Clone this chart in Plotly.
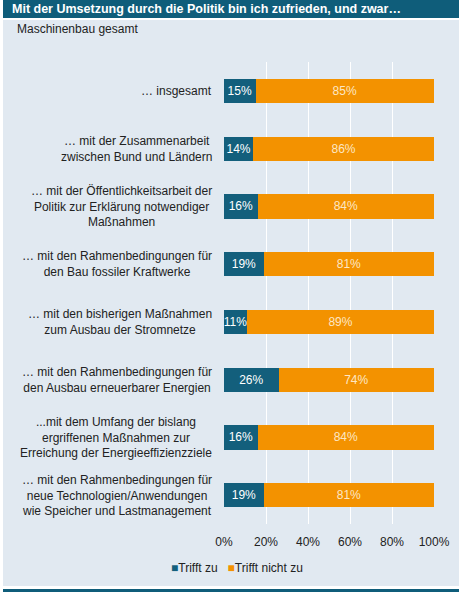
import plotly.graph_objects as go

categories = [
    "… insgesamt",
    "… mit der Zusammenarbeit<br>zwischen Bund und Ländern",
    "… mit der Öffentlichkeitsarbeit der<br>Politik zur Erklärung notwendiger<br>Maßnahmen",
    "… mit den Rahmenbedingungen für<br>den Bau fossiler Kraftwerke",
    "… mit den bisherigen Maßnahmen<br>zum Ausbau der Stromnetze",
    "… mit den Rahmenbedingungen für<br>den Ausbau erneuerbarer Energien",
    "...mit dem Umfang der bislang<br>ergriffenen Maßnahmen zur<br>Erreichung der Energieeffizienzziele",
    "… mit den Rahmenbedingungen für<br>neue Technologien/Anwendungen<br>wie Speicher und Lastmanagement",
]
trifft_zu = [15, 14, 16, 19, 11, 26, 16, 19]
trifft_nicht_zu = [85, 86, 84, 81, 89, 74, 84, 81]
x_ticks = [0, 20, 40, 60, 80, 100]
x_ticklabels = ["0%", "20%", "40%", "60%", "80%", "100%"]
series_names = ["Trifft zu", "Trifft nicht zu"]

W, H = 462, 592
L, R, T, B = 224, 28, 62, 68
pw, ph = W - L - R, H - T - B

def px(x):
    return (x - L) / pw

def py(y):
    return (H - B - y) / ph

TEAL = "#135f7c"
ORANGE = "#f39200"
BG = "#e1e9f1"
FONT = "Liberation Sans, Arial, sans-serif"
TXT = "#222222"

fig = go.Figure()
fig.add_trace(go.Bar(
    y=categories, x=trifft_zu, orientation="h", name=series_names[0],
    marker=dict(color=TEAL, line=dict(width=0)),
    text=[f"{v}%" for v in trifft_zu], textposition="inside", textangle=0,
    insidetextanchor="middle", textfont=dict(color="white", size=12, family=FONT),
    constraintext="none", showlegend=False,
))
fig.add_trace(go.Bar(
    y=categories, x=trifft_nicht_zu, orientation="h", name=series_names[1],
    marker=dict(color=ORANGE, line=dict(width=0)),
    text=[f"{v}%" for v in trifft_nicht_zu], textposition="inside", textangle=0,
    insidetextanchor="middle", textfont=dict(color="#fde7c4", size=12, family=FONT),
    constraintext="none", showlegend=False,
))

annotations = []
for c in categories:
    annotations.append(dict(
        x=0, xref="paper", y=c, yref="y", text=c, showarrow=False,
        xanchor="right", xshift=-10, align="center",
        font=dict(size=12, color=TXT, family=FONT),
    ))
annotations.append(dict(
    x=px(15), xref="paper", y=py(29), yref="paper", text="Maschinenbau gesamt",
    showarrow=False, xanchor="left", yanchor="middle",
    font=dict(size=12, color=TXT, family=FONT),
))
legend_text = (
    f"<span style='color:{TEAL}'>■</span>{series_names[0]}   "
    f"<span style='color:{ORANGE}'>■</span>{series_names[1]}"
)
annotations.append(dict(
    x=px(237), xref="paper", y=py(568), yref="paper", text=legend_text,
    showarrow=False, xanchor="center", yanchor="middle",
    font=dict(size=12, color=TXT, family=FONT),
))

shapes = [
    dict(type="rect", xref="paper", yref="paper", x0=px(3), x1=px(459), y0=py(20), y1=py(586),
         fillcolor=BG, line=dict(width=0), layer="below"),
    dict(type="rect", xref="paper", yref="paper", x0=px(3), x1=px(459), y0=py(0), y1=py(18),
         fillcolor="#0f5d7a", line=dict(width=0), layer="below"),
    dict(type="rect", xref="paper", yref="paper", x0=px(3), x1=px(459), y0=py(589), y1=py(592),
         fillcolor="#0f5d7a", line=dict(width=0), layer="below"),
]

fig.update_layout(
    width=W, height=H,
    margin=dict(l=L, r=R, t=T, b=B),
    paper_bgcolor="white", plot_bgcolor="rgba(0,0,0,0)",
    barmode="stack", bargap=0.58,
    font=dict(family=FONT, size=12, color=TXT),
    title=dict(text="<b>Mit der Umsetzung durch die Politik bin ich zufrieden, und zwar…</b>",
               xref="container", yref="container", x=12 / W, y=1 - 9 / H,
               xanchor="left", yanchor="middle",
               font=dict(size=12.5, color="white", family=FONT)),
    xaxis=dict(range=[0, 100], tickvals=x_ticks, ticktext=x_ticklabels,
               showgrid=True, gridcolor="white", gridwidth=1,
               zeroline=False, showline=False, ticks="", ticklabelstandoff=9,
               tickfont=dict(size=12, color=TXT), fixedrange=True),
    yaxis=dict(autorange="reversed", showticklabels=False, showgrid=False,
               zeroline=False, showline=False, ticks=""),
    showlegend=False,
    annotations=annotations, shapes=shapes,
    uniformtext=dict(mode="show", minsize=12),
)

fig.write_html("out.html")
